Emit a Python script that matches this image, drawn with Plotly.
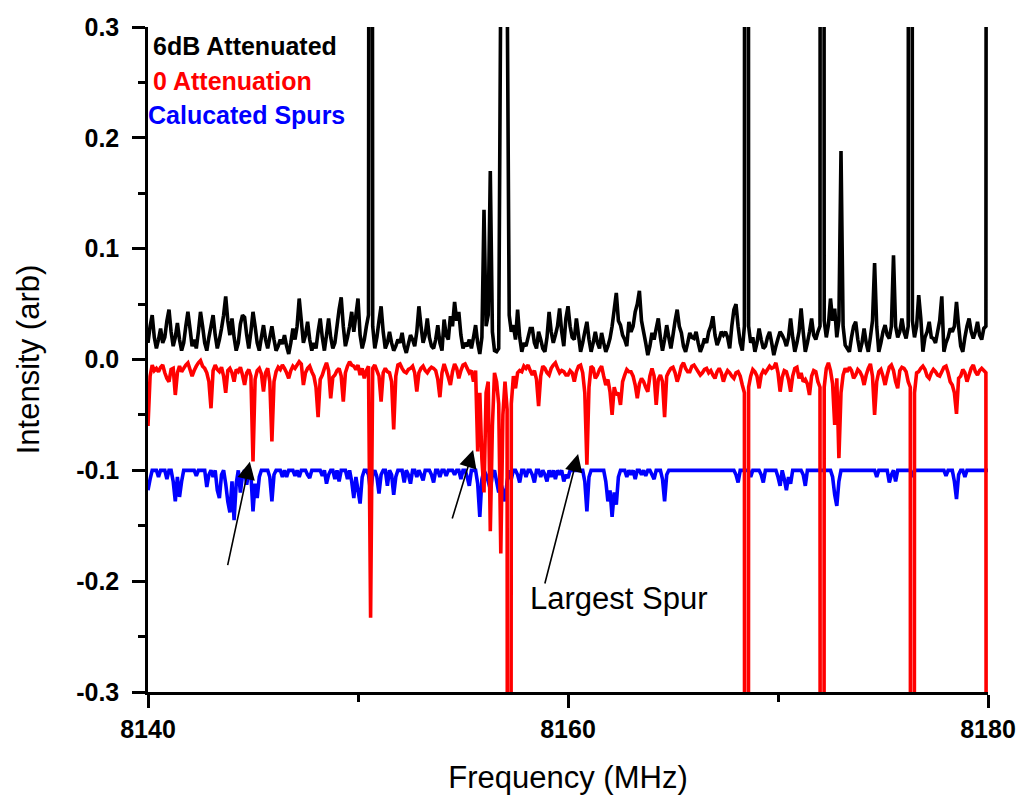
import numpy as np
import plotly.graph_objects as go

# ---------------- data ----------------
freq_start = 8140.0      # MHz, first sample
freq_step = 0.1          # MHz between samples

# 6 dB attenuated trace, in milli-units of intensity (arb)
black_milli = [
    15, 30, 40, 20, 10, 18, 28, 15, 20, 35, 45, 25, 12, 20, 33, 18, 8, 15, 30, 43,
    28, 12, 18, 10, 25, 43, 30, 15, 8, 20, 30, 40, 22, 10, 18, 28, 40, 57, 35, 22,
    37, 20, 8, 15, 32, 40, 38, 22, 10, 25, 43, 30, 15, 8, 20, 31, 18, 10, 20, 30,
    18, 8, 12, 18, 14, 22, 12, 5, 15, 28, 18, 30, 55, 35, 15, 22, 34, 18, 8, 15,
    10, 25, 37, 20, 8, 22, 37, 20, 10, 15, 30, 45, 56, 30, 12, 20, 30, 43, 25, 40,
    55, 22, 10, 18, 30, 40, 2500, 30, 10, 20, 35, 48, 25, 10, 15, 25, 15, 8, 12, 18,
    15, 24, 12, 6, 14, 22, 18, 12, 25, 48, 30, 15, 22, 37, 20, 12, 10, 18, 31, 15,
    8, 36, 22, 18, 39, 30, 52, 35, 43, 22, 10, 15, 12, 18, 10, 20, 31, 15, 5, 20,
    135, 30, 40, 170, 25, 8, 7, 10, 350, 1200, 1200, 350, 40, 25, 31, 18, 45, 20, 7, 15,
    12, 20, 28, 28, 15, 10, 25, 18, 10, 7, 20, 43, 25, 15, 22, 30, 46, 25, 12, 37,
    48, 30, 20, 18, 37, 22, 7, 15, 25, 34, 18, 7, 15, 25, 15, 10, 24, 15, 7, 12,
    19, 30, 45, 60, 35, 31, 22, 18, 12, 34, 25, 30, 43, 50, 62, 35, 25, 15, 4, 12,
    24, 18, 28, 37, 20, 8, 18, 31, 20, 10, 22, 35, 45, 30, 24, 12, 7, 15, 24, 20,
    19, 25, 15, 7, 12, 19, 15, 25, 30, 39, 22, 13, 18, 25, 22, 25, 20, 10, 30, 45,
    50, 30, 15, 8, 30, 5000, 30, 15, 20, 7, 15, 28, 18, 10, 12, 20, 25, 15, 4, 12,
    19, 25, 22, 18, 12, 20, 37, 20, 7, 15, 25, 46, 25, 7, 15, 25, 37, 22, 18, 25,
    30, 5000, 35, 20, 31, 55, 35, 46, 20, 35, 188, 30, 13, 10, 7, 20, 30, 34, 18, 7,
    15, 28, 15, 7, 20, 35, 87, 30, 7, 15, 25, 31, 22, 19, 30, 94, 30, 20, 25, 37,
    25, 19, 30, 5000, 35, 20, 30, 58, 37, 7, 20, 25, 34, 20, 19, 15, 25, 35, 57, 7,
    15, 20, 28, 25, 30, 52, 30, 12, 7, 20, 30, 37, 25, 19, 25, 34, 22, 18, 28, 30,
    3000,
]

# 0 attenuation trace, milli-units
red_milli = [
    -60, -15, -5, -10, -8, -11, -7, -5, -12, -17, -20, -9, -8, -32, -12, -6, -11, -8, -5, -3,
    -9, -15, -10, -6, -3, -1, -6, -8, -12, -20, -44, -10, -5, -9, -11, -7, -15, -30, -10, -8,
    -12, -20, -9, -11, -7, -14, -23, -12, -9, -15, -92, -18, -10, -8, -13, -29, -12, -8, -20, -74,
    -20, -11, -7, -9, -5, -8, -12, -17, -10, -6, -8, -5, -2, -4, -23, -12, -8, -6, -11, -15,
    -25, -52, -18, -14, -8, -3, -10, -35, -16, -14, -10, -8, -15, -38, -12, -6, -2, -5, -6, -9,
    -5, -14, -8, -17, -10, -6, -233, -8, -5, -10, -15, -38, -12, -8, -11, -12, -20, -63, -15, -5,
    -4, -8, -11, -12, -9, -8, -6, -12, -29, -12, -8, -6, -10, -12, -9, -7, -8, -10, -18, -34,
    -12, -4, -10, -16, -23, -11, -4, -8, -17, -10, -5, -4, -8, -12, -10, -20, -10, -83, -30, -90,
    -120, -30, -20, -155, -60, -12, -20, -40, -175, -50, -20, -45, -3000, -40, -15, -26, -12, -10, -11, -6,
    -8, -5, -10, -14, -10, -18, -42, -15, -6, -8, -12, -14, -8, -5, -3, -8, -12, -10, -11, -14,
    -14, -10, -12, -20, -11, -6, -5, -12, -30, -95, -25, -6, -8, -17, -14, -9, -6, -15, -23, -18,
    -29, -50, -25, -32, -30, -41, -20, -14, -9, -11, -11, -15, -23, -35, -22, -17, -20, -25, -29, -15,
    -8, -15, -41, -18, -14, -20, -52, -15, -11, -8, -7, -12, -20, -14, -6, -3, -8, -11, -11, -6,
    -5, -8, -11, -14, -12, -9, -8, -12, -10, -14, -17, -11, -8, -12, -20, -14, -10, -12, -15, -17,
    -12, -11, -15, -23, -30, -5000, -25, -15, -9, -11, -15, -26, -14, -10, -12, -9, -6, -8, -7, -3,
    -12, -29, -16, -10, -11, -18, -29, -15, -8, -7, -17, -12, -20, -18, -22, -32, -15, -10, -11, -20,
    -25, -5000, -25, -8, -3, -10, -22, -59, -17, -89, -30, -14, -8, -11, -7, -10, -17, -14, -9, -11,
    -15, -23, -14, -8, -4, -15, -50, -20, -11, -9, -15, -23, -14, -7, -5, -10, -20, -26, -10, -7,
    -8, -11, -20, -25, -5000, -30, -12, -11, -8, -6, -9, -15, -17, -12, -9, -11, -14, -15, -11, -7,
    -6, -12, -20, -23, -30, -49, -17, -15, -9, -12, -20, -14, -8, -5, -11, -14, -10, -8, -10, -12,
    -3000,
]

# calculated spurs, milli-units (offset baseline at -100)
blue_milli = [
    -118, -108, -100, -100, -100, -106, -100, -100, -100, -108, -100, -100, -110, -128, -106, -124, -110, -100, -100, -100,
    -100, -100, -100, -105, -100, -100, -100, -100, -115, -104, -100, -106, -100, -118, -125, -104, -100, -112, -128, -138,
    -110, -145, -112, -100, -120, -104, -100, -113, -100, -104, -137, -112, -125, -106, -100, -100, -100, -100, -106, -128,
    -104, -100, -100, -100, -106, -100, -106, -100, -100, -100, -105, -100, -106, -100, -100, -100, -104, -107, -100, -100,
    -100, -100, -100, -105, -100, -112, -104, -100, -100, -108, -100, -110, -100, -100, -100, -108, -100, -110, -125, -106,
    -118, -130, -106, -100, -100, -104, -120, -104, -100, -106, -121, -104, -100, -100, -114, -100, -104, -122, -106, -100,
    -100, -100, -111, -100, -104, -112, -100, -100, -106, -100, -104, -109, -100, -100, -100, -104, -111, -100, -100, -106,
    -100, -100, -105, -100, -100, -100, -104, -100, -100, -108, -100, -100, -106, -114, -100, -100, -100, -112, -142, -108,
    -100, -104, -110, -117, -104, -100, -110, -120, -112, -118, -128, -110, -100, -108, -100, -100, -104, -111, -100, -100,
    -106, -100, -100, -104, -111, -100, -100, -106, -100, -104, -110, -100, -106, -100, -108, -100, -104, -100, -110, -104,
    -107, -100, -100, -100, -100, -100, -100, -100, -110, -137, -106, -100, -100, -100, -100, -100, -100, -100, -110, -128,
    -118, -142, -120, -131, -106, -100, -100, -100, -106, -100, -104, -100, -108, -100, -100, -104, -100, -105, -100, -100,
    -104, -108, -100, -100, -100, -108, -128, -104, -100, -100, -100, -100, -100, -100, -100, -100, -100, -100, -100, -100,
    -100, -100, -100, -100, -100, -100, -100, -100, -100, -100, -100, -100, -100, -100, -100, -100, -100, -100, -100, -100,
    -104, -111, -100, -100, -100, -100, -100, -106, -100, -100, -100, -100, -104, -111, -100, -100, -100, -100, -100, -100,
    -106, -114, -100, -108, -118, -106, -112, -100, -100, -100, -100, -100, -104, -114, -100, -100, -100, -100, -100, -100,
    -100, -100, -100, -100, -100, -100, -106, -122, -132, -110, -100, -100, -100, -100, -100, -100, -100, -100, -100, -100,
    -100, -100, -100, -100, -100, -100, -100, -106, -100, -100, -100, -100, -100, -111, -104, -100, -110, -100, -100, -100,
    -100, -100, -100, -100, -106, -100, -100, -100, -100, -100, -100, -100, -100, -100, -100, -100, -100, -100, -100, -100,
    -105, -100, -100, -100, -110, -126, -104, -100, -100, -106, -100, -100, -100, -100, -100, -100, -100, -100, -100, -100,
    -100,
]

series_names = ["6dB Attenuated", "0 Attenuation", "Calucated Spurs"]

x_tick_vals = [8140, 8160, 8180]
x_minor_vals = [8150, 8170]
y_tick_vals = [-0.3, -0.2, -0.1, 0.0, 0.1, 0.2, 0.3]
y_tick_text = ["-0.3", "-0.2", "-0.1", "0.0", "0.1", "0.2", "0.3"]
y_minor_vals = [-0.25, -0.15, -0.05, 0.05, 0.15, 0.25]

# arrow tips (frequency MHz, intensity) pointing at spurs
arrow_tip_freq = [8144.85, 8155.48, 8160.48]
arrow_tip_val = [-0.0922, -0.0817, -0.0853]

# ---------------- build ----------------
n = len(black_milli)
if not (n == len(red_milli) == len(blue_milli) == 401):
    raise ValueError(f"lengths {len(black_milli)} {len(red_milli)} {len(blue_milli)}")
freq = np.round(freq_start + freq_step * np.arange(n), 3)

black = np.array(black_milli) / 1000.0
red = np.array(red_milli) / 1000.0
blue = np.array(blue_milli) / 1000.0

FONT = "Liberation Sans, Arial, sans-serif"
LW = 3.6

fig = go.Figure()
fig.add_trace(go.Scatter(x=freq, y=blue, mode="lines", name=series_names[2],
                         line=dict(color="#0000ff", width=LW, simplify=False)))
fig.add_trace(go.Scatter(x=freq, y=red, mode="lines", name=series_names[1],
                         line=dict(color="#ff0000", width=LW, simplify=False)))
fig.add_trace(go.Scatter(x=freq, y=black, mode="lines", name=series_names[0],
                         line=dict(color="#000000", width=LW, simplify=False)))

axis_common = dict(
    showline=True, linecolor="black", linewidth=2.5, mirror=False,
    showgrid=False, zeroline=False, ticks="outside", ticklen=13, tickwidth=2.5,
    tickcolor="black", automargin=False,
    tickfont=dict(family=FONT, size=25, color="black", weight="bold"),
)

fig.update_layout(
    width=1020, height=795,
    margin=dict(l=148, r=32, t=27, b=103),
    paper_bgcolor="white", plot_bgcolor="white",
    showlegend=False,
    xaxis=dict(
        range=[8140, 8180], tickmode="array", tickvals=x_tick_vals,
        ticklabelstandoff=0,
        minor=dict(ticks="outside", ticklen=7, tickwidth=2.5, tickcolor="black",
                   tickmode="array", tickvals=x_minor_vals),
        title=dict(text="Frequency (MHz)", font=dict(family=FONT, size=31, color="black"),
                   standoff=26),
        **axis_common,
    ),
    yaxis=dict(
        range=[-0.3, 0.3], tickmode="array", tickvals=y_tick_vals, ticktext=y_tick_text,
        ticklabelstandoff=8,
        minor=dict(ticks="outside", ticklen=7, tickwidth=2.5, tickcolor="black",
                   tickmode="array", tickvals=y_minor_vals),
        title=dict(text="Intensity (arb)", font=dict(family=FONT, size=31, color="black"),
                   standoff=28),
        **axis_common,
    ),
)

# legend-like coloured labels
legend_colors = ["#000000", "#ff0000", "#0000ff"]
legend_y = [0.9714, 0.9188, 0.8677]
legend_x = [0.004, 0.004, -0.002]
for name, col, yy, xx in zip(series_names, legend_colors, legend_y, legend_x):
    fig.add_annotation(xref="paper", yref="paper", x=xx, y=yy, xanchor="left", yanchor="middle",
                       text=f"<b>{name}</b>", showarrow=False,
                       font=dict(family=FONT, size=25, color=col))

# arrows
tail_offsets = [(-22.5, 105), (-21.3, 70), (-33.6, 131)]
for fx, fy, (ax, ay) in zip(arrow_tip_freq, arrow_tip_val, tail_offsets):
    fig.add_annotation(x=fx, y=fy, xref="x", yref="y", ax=ax, ay=ay, text="",
                       showarrow=True, arrowhead=2, arrowsize=2.2, arrowwidth=1.6,
                       arrowcolor="black", standoff=0)

fig.add_annotation(x=8162.43, y=-0.2152, xref="x", yref="y", text="Largest Spur",
                   showarrow=False, xanchor="center", yanchor="middle",
                   font=dict(family=FONT, size=31, color="black"))

fig.write_html("out.html")
